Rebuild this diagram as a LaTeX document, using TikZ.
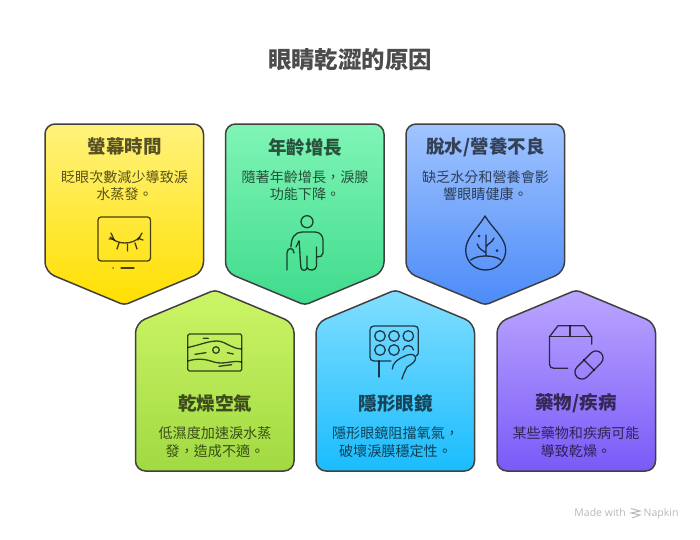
\documentclass[tikz,border=0pt]{standalone}
\usepackage{fontspec}
\setmainfont{Noto Sans CJK TC}
\newfontfamily\markfont{Open Sans}
\usetikzlibrary{positioning}
\definecolor{yellowtop}{HTML}{FFF27C}
\definecolor{yellowbot}{HTML}{FFE000}
\definecolor{greentop}{HTML}{80F5B6}
\definecolor{greenbot}{HTML}{3FDB8C}
\definecolor{bluetop}{HTML}{A0C4FF}
\definecolor{bluebot}{HTML}{4C8BF8}
\definecolor{limetop}{HTML}{CCF566}
\definecolor{limebot}{HTML}{A1DA42}
\definecolor{skytop}{HTML}{82DEFF}
\definecolor{skybot}{HTML}{1ABCFE}
\definecolor{purpletop}{HTML}{BBA6FF}
\definecolor{purplebot}{HTML}{7A5AF8}
\tikzset{
  cardline/.style={draw=black!75, line width=1.5pt, line join=round},
  headtext/.style={font=\fontsize{18.5}{22}\selectfont\bfseries, text=black, text opacity=.66, inner sep=0pt},
  bodytext/.style={font=\fontsize{14.1}{17.6}\selectfont, text=black, text opacity=.66, align=center, inner sep=0pt},
  icon/.style={draw=black, draw opacity=.72, line width=1.3pt, line cap=round, line join=round},
  marktext/.style={font=\markfont\fontsize{10.5}{12}\selectfont, text=black!28, inner sep=0pt},
}
\begin{document}
\begin{tikzpicture}[x=1pt,y=-1pt]
  \useasboundingbox (0,0) rectangle (700,539);
  \node[font=\fontsize{23.4}{28}\selectfont\bfseries, text=black!70, inner sep=0pt] (title) at (350,60) {眼睛乾澀的原因};
  % upper row
  \foreach \x/\ctop/\cbot in {45/yellowtop/yellowbot,225.5/greentop/greenbot,406/bluetop/bluebot}
    \draw[cardline, top color=\ctop, bottom color=\cbot, rounded corners=10pt]
      (\x+79.3,124) -- (\x+158.5,124) -- (\x+158.5,272) [rounded corners=4pt] -- (\x+79.3,305) [rounded corners=10pt] -- (\x,272) -- (\x,124) -- cycle;
  % lower row
  \foreach \x/\ctop/\cbot in {135.5/limetop/limebot,316/skytop/skybot,497/purpletop/purplebot}
    \draw[cardline, top color=\ctop, bottom color=\cbot, rounded corners=10pt]
      (\x,400) -- (\x,323) [rounded corners=4pt] -- (\x+79.3,290) [rounded corners=10pt] -- (\x+158.5,323) -- (\x+158.5,471) -- (\x,471) -- cycle;

  \node[headtext] (h1) at (124.5,147) {螢幕時間};
  \node[bodytext] (b1) at (124.5,185.5) {眨眼次數減少導致淚\\水蒸發。};
  \node[headtext] (h2) at (305,147) {年齡增長};
  \node[bodytext] (b2) at (305,185.5) {隨著年齡增長，淚腺\\功能下降。};
  \node[headtext] (h3) at (485.5,147) {脫水/營養不良};
  \node[bodytext] (b3) at (485.5,185.5) {缺乏水分和營養會影\\響眼睛健康。};
  \node[headtext] (h4) at (215,403) {乾燥空氣};
  \node[bodytext] (b4) at (215,442) {低濕度加速淚水蒸\\發，造成不適。};
  \node[headtext] (h5) at (395.5,403) {隱形眼鏡};
  \node[bodytext] (b5) at (395.5,442) {隱形眼鏡阻擋氧氣，\\破壞淚膜穩定性。};
  \node[headtext] (h6) at (576,403) {藥物/疾病};
  \node[bodytext] (b6) at (576,442) {某些藥物和疾病可能\\導致乾燥。};

  % screen
  \draw[icon, rounded corners=3pt] (98,217) rectangle (150.5,261);
  \draw[icon] (110,237) .. controls (118,245) and (132,245) .. (140,237);
  \draw[icon] (111,233) -- (114.5,240.5) (109,239) -- (113,239);
  \draw[icon] (119,243) -- (117,249) (127.5,244) -- (127.5,251) (135,243) -- (137,249) (138,240) -- (142,233) (140,239) -- (143,240);
  \draw[icon] (113,268) -- (113.1,268) (121,268) -- (134,268);
  % person with cane
  \draw[icon] (307,221.7) circle (6);
  \draw[icon] (287,270) -- (287,253) .. controls (287,247) and (294,247) .. (294,253);
  \draw[icon] (291,247) .. controls (291,238) and (295,232) .. (302,232) -- (315,232) .. controls (320,232) and (323,236) .. (323,240) -- (323,253) .. controls (323,256) and (320,257) .. (317,257);
  \draw[icon] (299,241) .. controls (300,250) and (300,260) .. (301,268) .. controls (302,271) and (306,271) .. (307,268) -- (307,256);
  \draw[icon] (307,268) .. controls (309,271) and (316,271) .. (316.5,266) -- (316.5,247);
  \draw[icon] (299,241) -- (296,247);
  % drop with tree
  \draw[icon] (485,216) .. controls (478,228) and (465.7,238) .. (465.7,250) .. controls (465.7,262) and (475,270) .. (485.5,270) .. controls (496,270) and (505.7,262) .. (505.7,250) .. controls (505.7,238) and (492,228) .. (485,216) -- cycle;
  \draw[icon] (470.7,260) .. controls (475,257) and (480,256) .. (485.7,256) .. controls (491,256) and (497,257) .. (501,260);
  \draw[icon] (486,256) -- (486,235) (477.3,244) .. controls (479,250) and (483,250) .. (486,253) (494,238) .. controls (492,243) and (488,243) .. (486,247);
  \fill[black, opacity=.72] (479,236) circle (1.5) (497,250.7) circle (1.5);
  % landscape
  \draw[icon, rounded corners=1.5pt] (187.7,334) rectangle (241.7,371);
  \draw[icon] (187.7,347.5) .. controls (200,345) and (208,341) .. (217,341) .. controls (225,341) and (232,349) .. (241.7,349);
  \draw[icon] (187.7,361) .. controls (198,358) and (205,359) .. (214,362) .. controls (224,365) and (232,360) .. (241.7,362);
  \draw[icon] (216,350) circle (3.3);
  \draw[icon] (203.3,338.3) -- (208.3,338.3) (195,354.3) -- (206,352.7) (227.3,352.7) -- (233.3,354) (219,366.3) -- (231.7,364.7);
  % blister and hand
  \draw[icon] (391,361) -- (374,361) .. controls (371.5,361) and (370,359.5) .. (370,357) -- (370,330) .. controls (370,327.5) and (371.5,326) .. (374,326) -- (414.5,326) .. controls (417,326) and (418.3,327.5) .. (418.3,330) -- (418.3,352) .. controls (418.3,354) and (418,355) .. (416,356);
  \foreach \cx in {380,394,408.3} \draw[icon] (\cx,336) circle (5.3);
  \foreach \cx in {380,394} \draw[icon] (\cx,350) circle (5.3);
  \draw[icon] (403,350) .. controls (404,344) and (412.5,344) .. (413.5,350);
  \draw[icon] (379,361) -- (379,377);
  \draw[icon] (392.3,369) .. controls (392.5,363) and (398,359) .. (403,357) .. controls (408,354) and (414,353) .. (415.5,357) .. controls (416.5,361) and (412,364) .. (407,367) .. controls (405,371) and (403,375) .. (402,379);
  % box and pill
  \draw[icon] (591.7,344.3) -- (591.7,336.7) -- (584.3,326) .. controls (584,325.7) and (584,325.7) .. (583,325.7) -- (558,325.7) -- (549.5,336.7) -- (549.5,364) .. controls (549.5,367) and (551,368.3) .. (554,368.3) -- (567.7,368.3);
  \draw[icon] (570,325.7) -- (570,336.7) (549.5,336.7) -- (591.7,336.7);
  \node[icon, minimum width=34pt, minimum height=14pt, rounded corners=7pt, rotate=45, inner sep=0pt] (pill) at (589,365) {};
  \draw[icon] (pill.north) -- (pill.south);

  % watermark
  \node[marktext, anchor=base east] (made) at (626,516.5) {Made with};
  \node[marktext, anchor=base west] (nap) at (643.5,516.5) {Napkin};
  \draw[black!28, line width=1pt] (631,508.5) -- (640,511) -- (631,513) -- (640,515) -- (632,518);
\end{tikzpicture}
\end{document}
